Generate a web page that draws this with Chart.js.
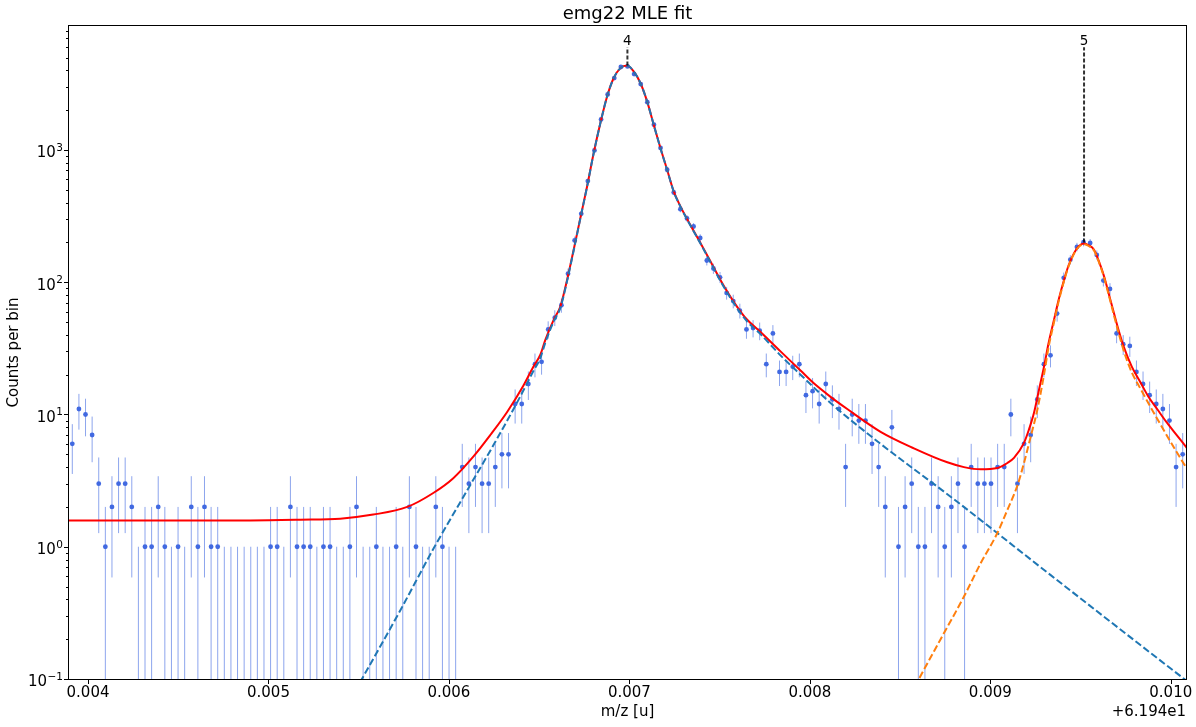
<!DOCTYPE html>
<html><head><meta charset="utf-8">
<script src="https://cdn.jsdelivr.net/npm/chart.js@4.4.1/dist/chart.umd.min.js"></script>
<style>html,body{margin:0;padding:0;background:#fff;}canvas{display:block;}</style>
</head><body>
<canvas id="c" width="1196" height="727"></canvas>
<script>
// ---- data (x values are m/z - 61.94) ----
const titleText = 'emg22 MLE fit';
const xLabel = 'm/z [u]';
const yLabel = 'Counts per bin';
const xOffsetText = '+6.194e1';
const binStart = 0.0039129;   // centre of first histogram bin
const binWidth = 3.6626e-5;   // histogram bin width
const counts = [
  6, 11, 10, 7, 3, 1, 2, 3, 3, 2,
  0, 1, 1, 2, 1, 0, 1, 0, 2, 1,
  2, 1, 1, 0, 0, 0, 0, 0, 0, 0,
  1, 1, 0, 2, 1, 1, 1, 0, 1, 1,
  0, 0, 1, 2, 0, 0, 1, 0, 0, 1,
  0, 2, 1, 0, 0, 2, 1, 0, 0, 4,
  3, 4, 3, 3, 4, 5, 5, 12, 12, 17,
  24, 25, 44, 54, 67, 116, 207, 329, 582, 993,
  1702, 2630, 3500, 4240, 4285, 3750, 3150, 2300, 1553, 1035,
  709, 477, 357, 304, 264, 216, 146, 127, 109, 83,
  72, 61, 44, 45, 43, 24, 41, 21, 21, 23,
  24, 14, 15, 12, 17, 13, 11, 4, 10, 9,
  9, 6, 4, 2, 8, 1, 2, 3, 1, 1,
  3, 2, 1, 2, 3, 1, 4, 3, 3, 3,
  4, 4, 10, 3, 6, 7, 13, 24, 28, 58,
  108, 148, 185, 201, 198, 161, 103, 89, 41, 34,
  33, 21, 17, 14, 12, 11, 9, 4, 5
];
const xMin = 0.0038946, xMax = 0.0100844;
const yMin = 0.1, yMax = 8660;
const xTickValues = [0.004, 0.005, 0.006, 0.007, 0.008, 0.009, 0.010];
const xTickLabels = ['0.004', '0.005', '0.006', '0.007', '0.008', '0.009', '0.010'];
const yTickValues = [0.1, 1, 10, 100, 1000];
const yTickBase = '10';
const yTickExps = ['\u22121', '0', '1', '2', '3'];

// total fit (red)
const fitX = [0.0038946,0.0043438,0.0048984,0.0051756,0.0053974,0.0055804,0.0057690,0.0059132,0.0060241,0.0061350,
  0.0062293,0.0063235,0.0064122,0.0064677,0.0065065,0.0065342,0.0065803,0.0066174,0.0066546,0.0066912,
  0.0067283,0.0067655,0.0068021,0.0068392,0.0068764,0.0069130,0.0069502,0.0069873,0.0070239,0.0070611,
  0.0070982,0.0071348,0.0071720,0.0072091,0.0072457,0.0072829,0.0073200,0.0073566,0.0073938,0.0074309,
  0.0074675,0.0075047,0.0075418,0.0075784,0.0076156,0.0076528,0.0077265,0.0078374,0.0079483,0.0080221,
  0.0081147,0.0082073,0.0083920,0.0085766,0.0087618,0.0088539,0.0089465,0.0090391,0.0090946,0.0091312,
  0.0091866,0.0092127,0.0092421,0.0092681,0.0092975,0.0093236,0.0093530,0.0093790,0.0094084,0.0094345,
  0.0094639,0.0094900,0.0095194,0.0095454,0.0095748,0.0096009,0.0096303,0.0096563,0.0096857,0.0097118,
  0.0097412,0.0097839,0.0098338,0.0098781,0.0099264,0.0099724,0.0100184,0.0100888];
const fitY = [1.58,1.58,1.58,1.6,1.63,1.75,2.0,2.55,3.3,4.8,
  7.0,10.5,16.5,23,28.3,36.7,52,65.6,104,176,
  306,530,948,1600,2540,3500,4160,4360,3925,3210,
  2330,1553,1035,709,486,375,300,244,198,160,
  129,104,85,71,60,52,42,30,21.5,17.2,
  13.6,11.0,7.4,5.55,4.35,4.0,3.85,3.94,4.3,4.7,
  6.1,7.6,10.3,15,23,35,52,74,104,135,
  166,187,196,190,176,145,111,82,58,43,
  32,23,17.3,13.5,10.9,8.9,7.4,5.6];

// component of peak 4 (blue dashed)
const comp4X = [0.0054252,0.0055178,0.0057302,0.0059148,0.0060812,0.0062476,0.0063773,0.0064694,0.0065065,0.0065342,
  0.0065803,0.0066174,0.0066546,0.0066912,0.0067283,0.0067655,0.0068021,0.0068392,0.0068764,0.0069130,
  0.0069502,0.0069873,0.0070239,0.0070611,0.0070982,0.0071348,0.0071720,0.0072091,0.0072457,0.0072829,
  0.0073200,0.0073566,0.0073938,0.0074309,0.0074675,0.0075047,0.0075418,0.0075784,0.0076156,0.0076528,
  0.0077265,0.0078374,0.0079483,0.0081147,0.0083920,0.0087801,0.0093347,0.0098892,0.0101665];
const comp4Y = [0.06,0.1,0.33,0.97,2.4,5.9,12.3,21.5,26.7,35,
  50.5,64,102,174,304,528,946,1598,2538,3498,
  4158,4358,3923,3208,2328,1551,1033,707,484,373,
  298,242,196,158,127,102,83.5,69.5,58.5,50.5,
  40.5,28,20,12.2,6.0,2.39,0.61,0.157,0.08];

// component of peak 5 (orange dashed)
const comp5X = [0.0085306,0.0086044,0.0087247,0.0088539,0.0089465,0.0090391,0.0090946,0.0091500,0.0091866,0.0092238,
  0.0092609,0.0092975,0.0093236,0.0093530,0.0093790,0.0094084,0.0094345,0.0094639,0.0094900,0.0095194,
  0.0095454,0.0095748,0.0096009,0.0096303,0.0096563,0.0096857,0.0097118,0.0097412,0.0097839,0.0098338,
  0.0099264,0.0100184,0.0100888];
const comp5Y = [0.064,0.1,0.2,0.42,0.75,1.27,1.9,2.9,4.3,6.8,
  10.9,20,32.7,49.8,72,101.8,133,163.8,185,193.8,
  188,173.8,143,108.8,80,55.8,41,29.8,20.8,15.5,
  9.2,5.6,3.9];

// peak markers
const peakLabels = ['4', '5'];
const peakX = [0.006989, 0.0095194];
const peakY = [4360, 200];
const markerTopY = 5980;

// ---- chart ----
Chart.defaults.font.family = "'DejaVu Sans', sans-serif";
Chart.defaults.color = '#000';

const toPts = (xs, ys) => xs.map((x, i) => ({x: x, y: ys[i]}));
const dataPts = counts.map((c, i) => ({x: binStart + i * binWidth, y: c > 0 ? c : null}));

const extras = {
  id: 'extras',
  beforeDatasetsDraw(chart) {
    const {ctx, chartArea: a, scales: {x, y}} = chart;
    ctx.save();
    ctx.beginPath(); ctx.rect(a.left, a.top, a.right - a.left, a.bottom - a.top); ctx.clip();
    ctx.strokeStyle = 'rgba(65,105,225,0.6)';
    ctx.lineWidth = 1;
    counts.forEach((c, i) => {
      const err = c > 0 ? Math.sqrt(c) : 1;
      const hi = c + err, lo = c - err;
      const px = x.getPixelForValue(binStart + i * binWidth);
      const pyHi = y.getPixelForValue(hi);
      const pyLo = lo > 0 ? y.getPixelForValue(lo) : a.bottom + 2;
      ctx.beginPath(); ctx.moveTo(px, pyHi); ctx.lineTo(px, pyLo); ctx.stroke();
    });
    ctx.restore();
  },
  afterDatasetsDraw(chart) {
    const {ctx, scales: {x, y}} = chart;
    ctx.save();
    peakLabels.forEach((lab, i) => {
      const px = x.getPixelForValue(peakX[i]);
      const pTop = y.getPixelForValue(markerTopY);
      ctx.strokeStyle = 'rgba(0,0,0,0.8)';
      ctx.lineWidth = 2;
      ctx.setLineDash([4, 2]);
      ctx.beginPath(); ctx.moveTo(px, y.getPixelForValue(peakY[i])); ctx.lineTo(px, pTop); ctx.stroke();
      ctx.setLineDash([]);
      ctx.fillStyle = '#000';
      ctx.font = "13.5px 'DejaVu Sans'";
      ctx.textAlign = 'center';
      ctx.textBaseline = 'alphabetic';
      ctx.fillText(lab, px, pTop - 2.5);
    });
    ctx.restore();
  },
  afterDraw(chart) {
    const {ctx, chartArea: a, scales: {x, y}} = chart;
    ctx.save();
    ctx.strokeStyle = '#000';
    ctx.lineWidth = 1;
    // ticks
    ctx.beginPath();
    xTickValues.forEach(v => {
      const px = Math.round(x.getPixelForValue(v)) + 0.5;
      ctx.moveTo(px, a.bottom); ctx.lineTo(px, a.bottom + 5);
    });
    yTickValues.forEach(v => {
      const py = Math.round(y.getPixelForValue(v)) + 0.5;
      ctx.moveTo(a.left, py); ctx.lineTo(a.left - 5, py);
    });
    for (let k = -1; k <= 3; k++) {
      for (let m = 2; m <= 9; m++) {
        const v = m * Math.pow(10, k);
        if (v > yMax) continue;
        const py = Math.round(y.getPixelForValue(v)) + 0.5;
        ctx.moveTo(a.left, py); ctx.lineTo(a.left - 3, py);
      }
    }
    ctx.stroke();
    // frame
    ctx.strokeRect(Math.round(a.left) - 0.5, Math.round(a.top) - 0.5,
                   Math.round(a.right - a.left) + 1, Math.round(a.bottom - a.top) + 1);
    // y tick labels (10 with superscript exponent)
    ctx.fillStyle = '#000';
    ctx.textBaseline = 'alphabetic';
    ctx.textAlign = 'right';
    const rightX = a.left - 6;
    yTickValues.forEach((v, i) => {
      const py = y.getPixelForValue(v);
      ctx.font = "10.5px 'DejaVu Sans'";
      const ew = ctx.measureText(yTickExps[i]).width;
      ctx.fillText(yTickExps[i], rightX, py + 0.8);
      ctx.font = "15px 'DejaVu Sans'";
      ctx.fillText(yTickBase, rightX - ew - 0.5, py + 7.3);
    });
    // offset text
    ctx.font = "15px 'DejaVu Sans'";
    ctx.textAlign = 'right';
    ctx.textBaseline = 'middle';
    ctx.fillText(xOffsetText, a.right, 712);
    ctx.restore();
  }
};

new Chart(document.getElementById('c'), {
  type: 'scatter',
  data: {
    datasets: [
      {label: 'data', data: dataPts, showLine: false, pointRadius: 2.4, pointHoverRadius: 2.4,
       pointBackgroundColor: '#4169E1', pointBorderWidth: 0, borderColor: '#4169E1', order: 4},
      {label: 'fit', data: toPts(fitX, fitY), showLine: true, borderColor: '#ff0000', borderWidth: 2,
       pointRadius: 0, cubicInterpolationMode: 'monotone', order: 3},
      {label: 'peak 4', data: toPts(comp4X, comp4Y), showLine: true, borderColor: '#1f77b4', borderWidth: 2,
       borderDash: [7, 3], pointRadius: 0, cubicInterpolationMode: 'monotone', order: 2},
      {label: 'peak 5', data: toPts(comp5X, comp5Y), showLine: true, borderColor: '#ff7f0e', borderWidth: 2,
       borderDash: [7, 3], pointRadius: 0, cubicInterpolationMode: 'monotone', order: 1}
    ]
  },
  options: {
    responsive: false,
    animation: false,
    devicePixelRatio: 1,
    layout: {padding: {top: 0, right: 10, left: 0, bottom: 0}},
    plugins: {
      legend: {display: false},
      tooltip: {enabled: false},
      title: {display: true, text: titleText, fullSize: false, color: '#000',
              font: {size: 18, weight: 'normal'}, padding: {top: 4, bottom: 0.4}}
    },
    scales: {
      x: {
        type: 'linear', min: xMin, max: xMax,
        afterFit: s => { s.height = 48; },
        afterBuildTicks: s => { s.ticks = xTickValues.map(v => ({value: v})); },
        grid: {display: false, drawTicks: true, tickLength: 5},
        border: {display: false},
        ticks: {autoSkip: false, maxRotation: 0, padding: 0, font: {size: 15}, color: '#000',
                callback: v => { const i = xTickValues.findIndex(t => Math.abs(t - v) < 1e-9); return i >= 0 ? xTickLabels[i] : ''; }},
        title: {display: true, text: xLabel, font: {size: 15}, color: '#000', padding: {top: 0, bottom: 6}}
      },
      y: {
        type: 'logarithmic', min: yMin, max: yMax,
        afterFit: s => { s.width = 69; },
        afterBuildTicks: s => { s.ticks = yTickValues.map(v => ({value: v})); },
        grid: {display: false, drawTicks: true, tickLength: 5},
        border: {display: false},
        ticks: {display: false},
        title: {display: true, text: yLabel, font: {size: 15}, color: '#000', padding: {top: 5, bottom: 0}}
      }
    }
  },
  plugins: [extras]
});
</script>
</body></html>
